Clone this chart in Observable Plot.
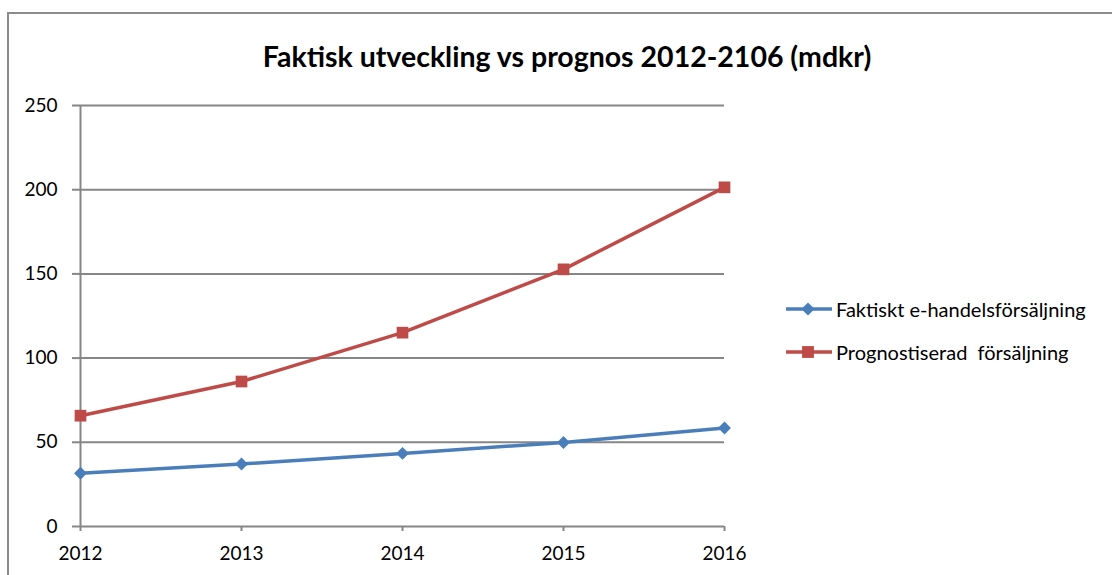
<!DOCTYPE html>
<html>
<head>
<meta charset="utf-8">
<script src="https://cdn.jsdelivr.net/npm/d3@7"></script>
<script src="https://cdn.jsdelivr.net/npm/@observablehq/plot@0.6"></script>
<style>
  html, body { margin: 0; padding: 0; background: #fff; }
  #wrap { position: relative; width: 1112px; height: 575px; overflow: hidden; font-family: Lato, "Open Sans", sans-serif; }
  #frame { position: absolute; left: 7px; top: 12px; width: 1200px; height: 700px; border-left: 2.5px solid #8c8c8c; border-top: 2.5px solid #8c8c8c; box-sizing: border-box; }
  #title { position: absolute; left: 0; top: 39px; width: 1134px; text-align: center; font-weight: bold; font-size: 28.5px; line-height: 34px; color: #000; }
  #chart { position: absolute; left: 0; top: 0; }
  #legend { position: absolute; left: 785px; top: 294px; font-size: 20px; color: #000; }
  .item { display: flex; align-items: center; height: 30px; margin-bottom: 13px; }
  .item svg { margin-right: 3px; }
</style>
</head>
<body>
<div id="wrap">
  <div id="frame"></div>
  <div id="chart"></div>
  <div id="title"></div>
  <div id="legend"></div>
</div>
<script>
const titleText = "Faktisk utveckling vs prognos 2012-2106 (mdkr)";
const years = [2012, 2013, 2014, 2015, 2016];
const faktiskt = [31.6, 37.1, 43.4, 49.9, 58.5];
const prognos = [65.8, 86.1, 115.1, 152.7, 201.4];
const seriesNames = ["Faktiskt e-handelsförsäljning", "Prognostiserad  försäljning"];
const seriesColors = ["#4a7ebb", "#be4b48"];
const seriesSymbols = ["diamond2", "square"];
const yTicks = [0, 50, 100, 150, 200, 250];

const rows = [];
years.forEach((y, i) => {
  rows.push({year: y, value: faktiskt[i], series: seriesNames[0]});
  rows.push({year: y, value: prognos[i], series: seriesNames[1]});
});

document.getElementById("title").textContent = titleText;

const grid = "#868686";
const chart = Plot.plot({
  width: 1112,
  height: 575,
  marginLeft: 79,
  marginRight: 388,
  marginTop: 105,
  marginBottom: 49,
  style: {fontFamily: "Lato, 'Open Sans', sans-serif", fontSize: "19px", color: "#000", background: "transparent", overflow: "visible"},
  x: {type: "point", domain: years, padding: 0},
  y: {domain: [0, 250]},
  color: {domain: seriesNames, range: seriesColors},
  symbol: {domain: seriesNames, range: seriesSymbols},
  marks: [
    Plot.ruleY(yTicks, {stroke: grid, strokeWidth: 2}),
    Plot.ruleX([years[0]], {y1: 0, y2: 250, stroke: grid, strokeWidth: 2}),
    Plot.axisY({ticks: yTicks, tickSize: 7, tickPadding: 15, stroke: grid, strokeWidth: 2, label: null, fontSize: 19}),
    Plot.axisX({ticks: years, tickSize: 5, tickPadding: 15, stroke: grid, strokeWidth: 2, label: null, tickFormat: d => String(d), fontSize: 19}),
    Plot.line(rows, {x: "year", y: "value", z: "series", stroke: "series", strokeWidth: 3.5}),
    Plot.dot(rows.filter(d => d.series === seriesNames[0]), {x: "year", y: "value", symbol: "series", fill: "series", r: 5.8, stroke: null}),
    Plot.dot(rows.filter(d => d.series === seriesNames[1]), {x: "year", y: "value", symbol: "series", fill: "series", r: 6.6, stroke: null})
  ]
});
document.getElementById("chart").appendChild(chart);

const legend = document.getElementById("legend");
seriesNames.forEach((name, i) => {
  const item = document.createElement("div");
  item.className = "item";
  const sym = seriesSymbols[i] === "square" ? d3.symbolSquare : d3.symbolDiamond2;
  const size = seriesSymbols[i] === "square" ? 140 : 110;
  const path = d3.symbol(sym, size)();
  item.innerHTML = `<svg width="48" height="20"><line x1="1" x2="47" y1="10" y2="10" stroke="${seriesColors[i]}" stroke-width="3.5"/><path transform="translate(23,10)" d="${path}" fill="${seriesColors[i]}"/></svg><span style="white-space:pre">${name}</span>`;
  legend.appendChild(item);
});
</script>
</body>
</html>
